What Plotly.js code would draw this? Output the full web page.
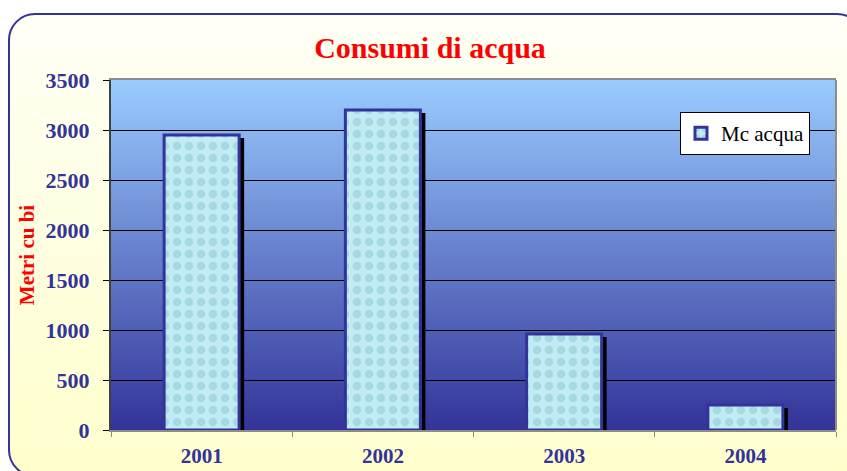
<!DOCTYPE html>
<html>
<head>
<meta charset="utf-8">
<script src="https://cdn.plot.ly/plotly-3.0.1.min.js"></script>
<style>html,body{margin:0;padding:0;background:#fff;}#chart{width:847px;height:471px;}</style>
</head>
<body>
<div id="chart"></div>
<script>
// ---- data ----
var years = ['2001', '2002', '2003', '2004'];
var mcAcqua = [2950, 3200, 960, 250];
var yTicks = [0, 500, 1000, 1500, 2000, 2500, 3000, 3500];
var seriesName = 'Mc acqua';
var chartTitle = 'Consumi di acqua';
var yTitle = 'Metri cu bi';

var W = 847, H = 471, L = 111, R = 11, T = 80, B = 41;
var pw = W - L - R, ph = H - T - B;
var serif = "'Liberation Serif', 'Times New Roman', serif";

function svgUri(s) { return 'data:image/svg+xml;charset=utf-8,' + encodeURIComponent(s); }

var outerSvg = '<svg xmlns="http://www.w3.org/2000/svg" width="847" height="471" viewBox="0 0 847 471" preserveAspectRatio="none">' +
  '<defs><linearGradient id="g" x1="0" y1="0" x2="0" y2="1">' +
  '<stop offset="0" stop-color="#FFFFF6"/><stop offset="1" stop-color="#FFFFCC"/></linearGradient></defs>' +
  '<rect x="0" y="0" width="847" height="471" fill="#ffffff"/>' +
  '<rect x="9" y="14" width="854" height="462" rx="26" ry="26" fill="url(#g)" stroke="#333399" stroke-width="2"/></svg>';

var plotSvg = '<svg xmlns="http://www.w3.org/2000/svg" width="725" height="350" viewBox="0 0 725 350" preserveAspectRatio="none">' +
  '<defs><linearGradient id="p" x1="0" y1="0" x2="0" y2="1">' +
  '<stop offset="0" stop-color="#99CCFF"/><stop offset="1" stop-color="#333399"/></linearGradient></defs>' +
  '<rect x="0" y="0" width="725" height="350" fill="url(#p)"/></svg>';

var barW = 0.414;
var shadowDx = 5 / (pw / years.length);
var shadowDy = 30;

var shadow = {
  type: 'bar', x: years, y: mcAcqua.map(function (v) { return v - shadowDy; }),
  width: barW, offset: -barW / 2 + shadowDx,
  marker: { color: '#000000', line: { width: 0 } },
  showlegend: false, hoverinfo: 'skip'
};
var main = {
  type: 'bar', x: years, y: mcAcqua, name: seriesName,
  width: barW, offset: -barW / 2,
  marker: {
    color: '#BDEAF2',
    line: { color: '#333399', width: 3 },
    pattern: { shape: '.', fgcolor: '#A6D9E3', bgcolor: '#C2ECF3', size: 12, solidity: 0.4 }
  }
};

var layout = {
  width: W, height: H,
  margin: { l: L, r: R, t: T, b: B, pad: 0 },
  paper_bgcolor: '#ffffff',
  plot_bgcolor: 'rgba(0,0,0,0)',
  barmode: 'overlay',
  font: { family: serif },
  title: {
    text: '<b>' + chartTitle + '</b>',
    font: { family: serif, size: 30, color: '#FF0000' },
    x: 430 / W, xref: 'container', xanchor: 'center',
    y: 1 - 47 / H, yref: 'container', yanchor: 'middle'
  },
  xaxis: {
    type: 'category', categoryorder: 'array', categoryarray: years,
    range: [-0.5, years.length - 0.5],
    showgrid: false, zeroline: false,
    showline: true, linecolor: '#8C8C8C', linewidth: 2, mirror: true,
    ticks: 'outside', tickson: 'boundaries', ticklen: 5, tickcolor: '#8C8C8C', tickwidth: 1,
    tickfont: { family: serif, size: 21, color: '#333399', weight: 'bold' },
    ticklabelstandoff: 6,
    fixedrange: true
  },
  yaxis: {
    range: [0, 3500], tickvals: yTicks, ticktext: yTicks.map(String),
    showgrid: true, gridcolor: '#000000', gridwidth: 1,
    zeroline: false,
    showline: true, linecolor: '#404040', linewidth: 2,
    ticks: 'outside', ticklen: 6, tickcolor: '#000000', tickwidth: 1,
    tickfont: { family: serif, size: 22, color: '#333399', weight: 'bold' },
    ticklabelstandoff: 9,
    title: { text: '<b>' + yTitle + '</b>', font: { family: serif, size: 21, color: '#FF0000' }, standoff: 5 },
    fixedrange: true
  },
  legend: {
    x: (680 - L) / pw, y: (430 - 112) / ph, xanchor: 'left', yanchor: 'top',
    bgcolor: '#FFFFFF', bordercolor: '#000000', borderwidth: 1,
    font: { family: serif, size: 21, color: '#000000' },
    itemwidth: 30
  },
  images: [
    { source: svgUri(outerSvg), xref: 'paper', yref: 'paper', x: -L / pw, y: 1 + T / ph,
      sizex: W / pw, sizey: H / ph, xanchor: 'left', yanchor: 'top', sizing: 'stretch', layer: 'below' },
    { source: svgUri(plotSvg), xref: 'paper', yref: 'paper', x: 0, y: 1,
      sizex: 1, sizey: 1, xanchor: 'left', yanchor: 'top', sizing: 'stretch', layer: 'below' }
  ],
  shapes: [
    { type: 'line', xref: 'paper', yref: 'paper', x0: 1, x1: 1, y0: 0, y1: 1,
      line: { color: '#8C8C8C', width: 2 }, layer: 'above' }
  ],
  showlegend: true
};

Plotly.newPlot('chart', [shadow, main], layout, { displayModeBar: false, staticPlot: true });
</script>
</body>
</html>
